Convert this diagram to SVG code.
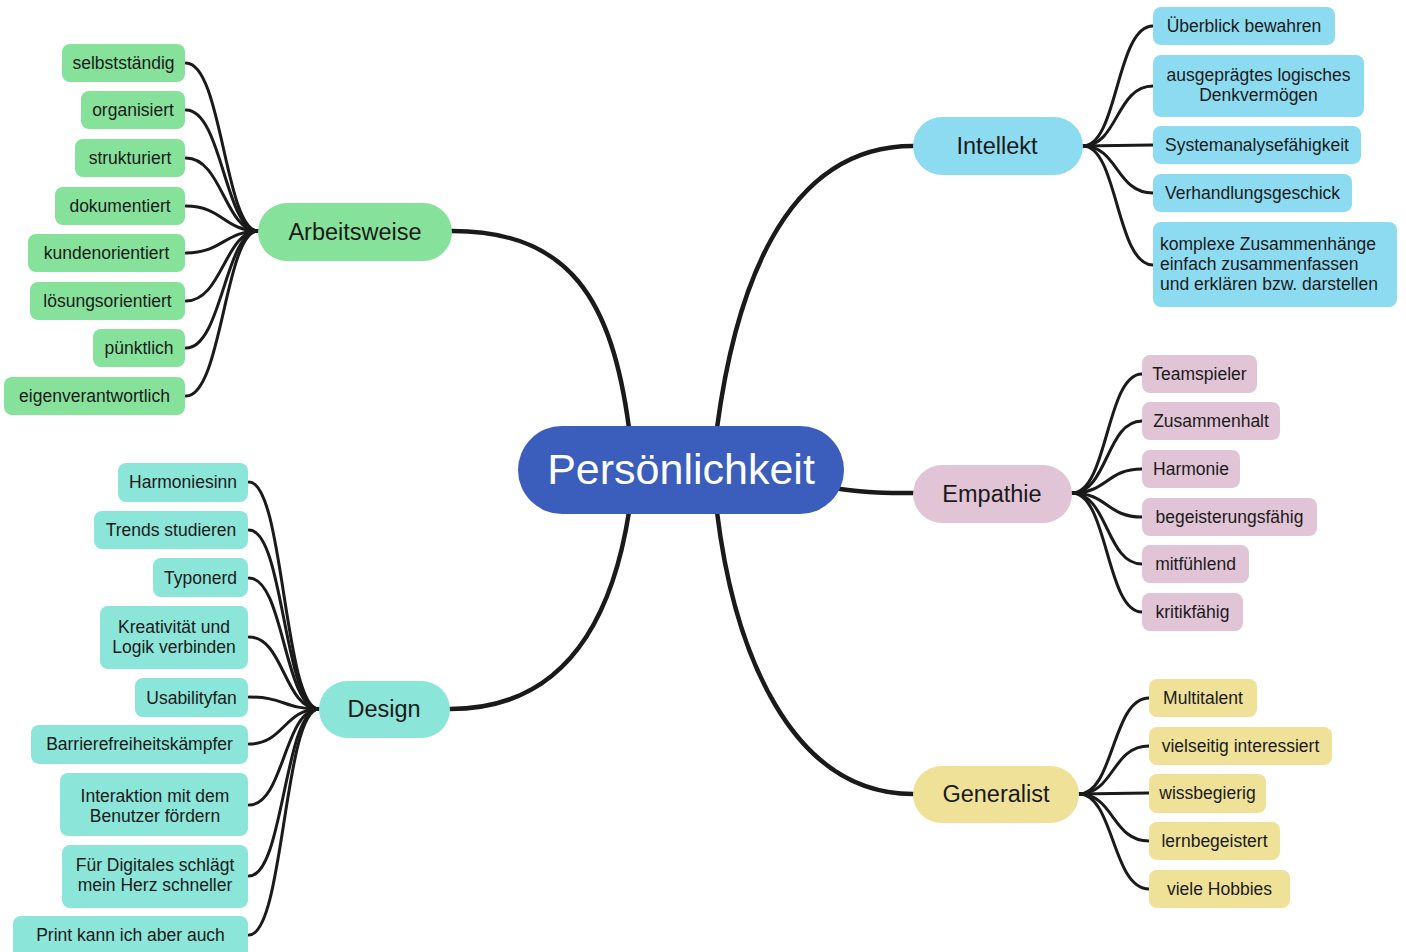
<svg xmlns="http://www.w3.org/2000/svg" width="1406" height="952" viewBox="0 0 1406 952">
<style>
.t{font-family:"Liberation Sans",Arial,sans-serif;fill:#1a1a1a;}
.leaf{font-size:17.5px;text-anchor:middle;}
.hub{font-size:23.5px;text-anchor:middle;}
.main{stroke:#1a1a1a;stroke-width:4.5;fill:none;stroke-linecap:round;}
.br{stroke:#1a1a1a;stroke-width:3;fill:none;stroke-linecap:round;}
.g{fill:#86e29a;}
.b{fill:#8ddbf1;}
.p{fill:#e2c4d7;}
.y{fill:#efe197;}
.c{fill:#8be5d8;}
</style>
<rect width="1406" height="952" fill="#ffffff"/>
<g id="connectors">
<path class="main" d="M629,428 C612,300 570,231 452,231"/>
<path class="main" d="M717,428 C734,300 780,146 913,146"/>
<path class="main" d="M840,489 C870,493 885,493 913,493"/>
<path class="main" d="M717,512 C734,650 790,794 913,794"/>
<path class="main" d="M629,512 C612,620 565,709 450,709"/>
<g>
<path class="br" d="M258,231 C225,231 222,63 186,63"/>
<path class="br" d="M258,231 C225,231 222,110 186,110"/>
<path class="br" d="M258,231 C225,231 222,158 186,158"/>
<path class="br" d="M258,231 C225,231 222,206 186,206"/>
<path class="br" d="M258,231 C225,231 222,253 186,253"/>
<path class="br" d="M258,231 C225,231 222,301 186,301"/>
<path class="br" d="M258,231 C225,231 222,348 186,348"/>
<path class="br" d="M258,231 C225,231 222,396 186,396"/>
</g>
<g>
<path class="br" d="M1083,146 C1118,146 1116,26 1153,26"/>
<path class="br" d="M1083,146 C1118,146 1116,86 1153,86"/>
<path class="br" d="M1083,146 C1118,146 1116,145 1153,145"/>
<path class="br" d="M1083,146 C1118,146 1116,193 1153,193"/>
<path class="br" d="M1083,146 C1118,146 1116,265 1153,265"/>
</g>
<g>
<path class="br" d="M1072,493 C1108,493 1106,374 1142,374"/>
<path class="br" d="M1072,493 C1108,493 1106,421 1142,421"/>
<path class="br" d="M1072,493 C1108,493 1106,469 1142,469"/>
<path class="br" d="M1072,493 C1108,493 1106,517 1142,517"/>
<path class="br" d="M1072,493 C1108,493 1106,564 1142,564"/>
<path class="br" d="M1072,493 C1108,493 1106,612 1142,612"/>
</g>
<g>
<path class="br" d="M1079,794 C1114,794 1112,698 1149,698"/>
<path class="br" d="M1079,794 C1114,794 1112,746 1149,746"/>
<path class="br" d="M1079,794 C1114,794 1112,793 1149,793"/>
<path class="br" d="M1079,794 C1114,794 1112,841 1149,841"/>
<path class="br" d="M1079,794 C1114,794 1112,889 1149,889"/>
</g>
<g>
<path class="br" d="M319,709 C284,709 284,482 249,482"/>
<path class="br" d="M319,709 C284,709 284,530 249,530"/>
<path class="br" d="M319,709 C284,709 284,578 249,578"/>
<path class="br" d="M319,709 C284,709 284,637 249,637"/>
<path class="br" d="M319,709 C284,709 284,697 249,697"/>
<path class="br" d="M319,709 C284,709 284,744 249,744"/>
<path class="br" d="M319,709 C284,709 284,805 249,805"/>
<path class="br" d="M319,709 C284,709 284,876 249,876"/>
<path class="br" d="M319,709 C284,709 284,935 249,935"/>
</g>
</g>
<g id="center">
<rect x="518" y="426" width="326" height="88" rx="44" fill="#3b5dbb"/>
<text x="681" y="484" font-family="Liberation Sans,Arial,sans-serif" font-size="43" fill="#ffffff" text-anchor="middle">Persönlichkeit</text>
</g>
<g id="arbeitsweise">
<rect class="g" x="258" y="203" width="194" height="58" rx="29"/>
<text class="t hub" x="355" y="240">Arbeitsweise</text>
</g>
<g id="intellekt">
<rect class="b" x="913" y="117" width="170" height="58" rx="29"/>
<text class="t hub" x="997" y="154">Intellekt</text>
</g>
<g id="empathie">
<rect class="p" x="913" y="465" width="159" height="58" rx="29"/>
<text class="t hub" x="992" y="502">Empathie</text>
</g>
<g id="generalist">
<rect class="y" x="913" y="766" width="166" height="57" rx="28.5"/>
<text class="t hub" x="996" y="802">Generalist</text>
</g>
<g id="design">
<rect class="c" x="319" y="681" width="131" height="57" rx="28.5"/>
<text class="t hub" x="384" y="717">Design</text>
</g>
<g id="a1"><rect class="g" x="62" y="44" width="123" height="38" rx="8"/><text class="t leaf" x="123.5" y="69">selbstständig</text></g>
<g id="a2"><rect class="g" x="81" y="91" width="104" height="38" rx="8"/><text class="t leaf" x="133" y="116">organisiert</text></g>
<g id="a3"><rect class="g" x="75" y="139" width="110" height="38" rx="8"/><text class="t leaf" x="130" y="164">strukturiert</text></g>
<g id="a4"><rect class="g" x="55" y="187" width="130" height="38" rx="8"/><text class="t leaf" x="120" y="212">dokumentiert</text></g>
<g id="a5"><rect class="g" x="28" y="234" width="157" height="38" rx="8"/><text class="t leaf" x="106.5" y="259">kundenorientiert</text></g>
<g id="a6"><rect class="g" x="30" y="282" width="155" height="38" rx="8"/><text class="t leaf" x="107.5" y="307">lösungsorientiert</text></g>
<g id="a7"><rect class="g" x="93" y="329" width="92" height="38" rx="8"/><text class="t leaf" x="139" y="354">pünktlich</text></g>
<g id="a8"><rect class="g" x="4" y="377" width="181" height="38" rx="8"/><text class="t leaf" x="94.5" y="402">eigenverantwortlich</text></g>
<g id="i1"><rect class="b" x="1153" y="7" width="182" height="38" rx="8"/><text class="t leaf" x="1244" y="32">Überblick bewahren</text></g>
<g id="i2"><rect class="b" x="1153" y="55" width="211" height="62" rx="8"/><text class="t leaf"><tspan x="1258.5" y="81">ausgeprägtes logisches</tspan><tspan x="1258.5" y="101">Denkvermögen</tspan></text></g>
<g id="i3"><rect class="b" x="1153" y="126" width="208" height="38" rx="8"/><text class="t leaf" x="1257" y="151">Systemanalysefähigkeit</text></g>
<g id="i4"><rect class="b" x="1153" y="174" width="199" height="38" rx="8"/><text class="t leaf" x="1252.5" y="199">Verhandlungsgeschick</text></g>
<g id="i5"><rect class="b" x="1153" y="222" width="244" height="85" rx="8"/><text class="t" font-size="17.5"><tspan x="1160" y="250">komplexe Zusammenhänge</tspan><tspan x="1160" y="270">einfach zusammenfassen</tspan><tspan x="1160" y="290">und erklären bzw. darstellen</tspan></text></g>
<g id="e1"><rect class="p" x="1142" y="355" width="115" height="38" rx="8"/><text class="t leaf" x="1199.5" y="380">Teamspieler</text></g>
<g id="e2"><rect class="p" x="1142" y="402" width="138" height="38" rx="8"/><text class="t leaf" x="1211" y="427">Zusammenhalt</text></g>
<g id="e3"><rect class="p" x="1142" y="450" width="98" height="38" rx="8"/><text class="t leaf" x="1191" y="475">Harmonie</text></g>
<g id="e4"><rect class="p" x="1142" y="498" width="175" height="38" rx="8"/><text class="t leaf" x="1229.5" y="523">begeisterungsfähig</text></g>
<g id="e5"><rect class="p" x="1142" y="545" width="107" height="38" rx="8"/><text class="t leaf" x="1195.5" y="570">mitfühlend</text></g>
<g id="e6"><rect class="p" x="1142" y="593" width="101" height="38" rx="8"/><text class="t leaf" x="1192.5" y="618">kritikfähig</text></g>
<g id="g1"><rect class="y" x="1149" y="679" width="108" height="38" rx="8"/><text class="t leaf" x="1203" y="704">Multitalent</text></g>
<g id="g2"><rect class="y" x="1149" y="727" width="183" height="38" rx="8"/><text class="t leaf" x="1240.5" y="752">vielseitig interessiert</text></g>
<g id="g3"><rect class="y" x="1149" y="774" width="117" height="39" rx="8"/><text class="t leaf" x="1207.5" y="799">wissbegierig</text></g>
<g id="g4"><rect class="y" x="1149" y="822" width="131" height="38" rx="8"/><text class="t leaf" x="1214.5" y="847">lernbegeistert</text></g>
<g id="g5"><rect class="y" x="1149" y="870" width="141" height="38" rx="8"/><text class="t leaf" x="1219.5" y="895">viele Hobbies</text></g>
<g id="d1"><rect class="c" x="118" y="463" width="130" height="39" rx="8"/><text class="t leaf" x="183" y="488">Harmoniesinn</text></g>
<g id="d2"><rect class="c" x="94" y="511" width="154" height="38" rx="8"/><text class="t leaf" x="171" y="536">Trends studieren</text></g>
<g id="d3"><rect class="c" x="153" y="558" width="95" height="39" rx="8"/><text class="t leaf" x="200.5" y="584">Typonerd</text></g>
<g id="d4"><rect class="c" x="100" y="606" width="148" height="63" rx="8"/><text class="t leaf"><tspan x="174" y="633">Kreativität und</tspan><tspan x="174" y="653">Logik verbinden</tspan></text></g>
<g id="d5"><rect class="c" x="135" y="678" width="113" height="39" rx="8"/><text class="t leaf" x="191.5" y="704">Usabilityfan</text></g>
<g id="d6"><rect class="c" x="31" y="725" width="217" height="39" rx="8"/><text class="t leaf" x="139.5" y="750">Barrierefreiheitskämpfer</text></g>
<g id="d7"><rect class="c" x="60" y="773" width="188" height="63" rx="8"/><text class="t leaf"><tspan x="155" y="802">Interaktion mit dem</tspan><tspan x="155" y="822">Benutzer fördern</tspan></text></g>
<g id="d8"><rect class="c" x="62" y="845" width="186" height="63" rx="8"/><text class="t leaf"><tspan x="155" y="871">Für Digitales schlägt</tspan><tspan x="155" y="891">mein Herz schneller</tspan></text></g>
<g id="d9"><rect class="c" x="13" y="916" width="235" height="44" rx="8"/><text class="t leaf" x="130.5" y="941">Print kann ich aber auch</text></g>
</svg>
